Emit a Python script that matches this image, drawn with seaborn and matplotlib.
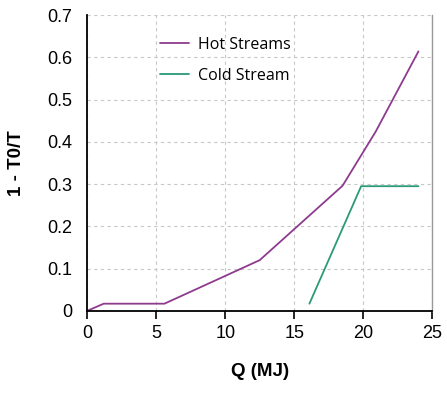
import numpy as np
import pandas as pd
import matplotlib
matplotlib.use("Agg")
import matplotlib.pyplot as plt
import seaborn as sns

# hot and cold composite curves (Q in MJ vs 1 - T0/T)
hot_q = [0.0, 1.2, 5.6, 12.5, 18.5, 20.9, 24.0]
hot_y = [0.0, 0.017, 0.017, 0.12, 0.296, 0.424, 0.614]
cold_q = [16.1, 19.85, 24.0]
cold_y = [0.017, 0.295, 0.295]

sns.set_style("white")
plt.rcParams['font.family'] = ['Liberation Sans', 'DejaVu Sans']
plt.rcParams['text.color'] = 'black'
plt.rcParams['axes.labelcolor'] = 'black'
plt.rcParams['xtick.color'] = 'black'
plt.rcParams['ytick.color'] = 'black'

fig = plt.figure(figsize=(4.47, 3.96), dpi=100)
ax = fig.add_axes([0.195, 0.215, 0.772, 0.747])

hot = pd.DataFrame({'Q': hot_q, 'y': hot_y})
cold = pd.DataFrame({'Q': cold_q, 'y': cold_y})
sns.lineplot(data=hot, x='Q', y='y', sort=False, color='#8e3b8e', lw=1.3,
             label='Hot Streams', ax=ax)
sns.lineplot(data=cold, x='Q', y='y', sort=False, color='#2a9a78', lw=1.3,
             label='Cold Stream', ax=ax)

ax.set_xlim(0, 25)
ax.set_ylim(0, 0.7)
ax.set_xticks(np.arange(0, 26, 5))
ax.set_yticks(np.arange(0, 0.71, 0.1))
ax.set_yticklabels(['0', '0.1', '0.2', '0.3', '0.4', '0.5', '0.6', '0.7'])
ax.grid(True, ls=(0, (3, 3)), color='#c8c8c8', lw=0.8)
ax.tick_params(axis='x', direction='out', length=5.5, width=1.2, bottom=True,
               labelsize=13, pad=5)
ax.tick_params(axis='y', left=False, labelsize=13, pad=7)

for s in ['left', 'bottom']:
    ax.spines[s].set_color('black')
    ax.spines[s].set_linewidth(1.3)
ax.spines['right'].set_color('#999999')
ax.spines['right'].set_linewidth(1.0)
ax.spines['top'].set_visible(False)

ax.set_xlabel('Q (MJ)', fontsize=13.5, fontweight='bold', labelpad=15)
ax.set_ylabel('1 - T0/T', fontsize=13.5, fontweight='bold', labelpad=16)

leg = ax.legend(loc='upper left', bbox_to_anchor=(0.17, 0.975), frameon=False,
                fontsize=11.5, labelspacing=0.95, handlelength=1.8,
                handletextpad=0.55)
for t in leg.get_texts():
    t.set_family(['Open Sans', 'DejaVu Sans'])

fig.savefig('out.png', dpi=100)
